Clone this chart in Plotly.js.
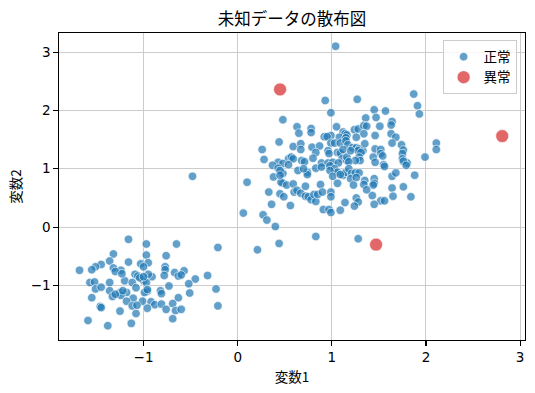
<!DOCTYPE html>
<html>
<head>
<meta charset="utf-8">
<script src="https://cdn.plot.ly/plotly-3.0.1.min.js"></script>
<style>html,body{margin:0;padding:0;background:#fff;}#chart{width:535px;height:393px;}</style>
</head>
<body>
<div id="chart"></div>
<script>
// Normal points (正常)
const normalX = [
1.04,1.87,1.91,1.93,0.93,1.27,0.99,1.45,1.57,0.48,1.36,1.47,1.64,1.63,0.63,0.65,0.78,0.78,1.05,1.12,
1.14,1.24,1.28,1.34,1.37,1.51,1.34,1.46,1.63,1.68,0.99,0.92,0.95,1.08,1.16,1.15,1.26,0.44,0.26,0.28,
0.59,0.67,0.67,0.79,0.87,0.99,1.03,1.09,1.15,1.17,1.22,1.26,1.29,1.33,1.35,1.46,1.52,1.52,1.54,1.64,
1.74,1.76,1.75,1.75,1.80,1.99,2.11,2.11,0.96,0.97,1.06,1.09,1.12,1.11,1.16,1.16,0.83,0.54,0.57,0.59,
0.68,0.71,0.80,0.43,0.37,0.48,0.54,0.89,0.96,1.01,1.07,1.28,1.31,1.44,1.29,1.30,1.25,1.18,1.46,1.55,
1.56,1.76,1.79,1.20,0.43,0.46,0.48,0.64,0.74,0.74,0.70,0.83,0.89,0.98,1.03,1.06,1.12,1.15,1.18,0.98,
1.01,1.09,0.38,0.48,0.46,0.52,0.59,0.60,0.63,0.67,0.72,0.72,0.75,0.78,0.81,0.83,0.85,0.88,0.90,0.99,
0.99,1.06,0.33,0.45,0.49,0.36,0.56,0.91,0.97,0.99,1.09,0.27,0.31,0.40,0.83,0.44,0.21,1.21,1.25,1.29,
1.20,1.26,1.35,1.34,1.45,1.45,1.44,1.37,1.23,1.64,1.68,1.88,1.64,1.76,1.43,1.65,1.84,1.52,1.56,1.26,
1.28,1.24,1.45,1.14,1.28,-0.48,0.10,0.45,0.45,0.06,
-1.16,-0.97,-0.65,-0.21,-1.32,-0.97,-0.76,-1.36,-1.16,-1.03,-0.95,-1.45,-1.51,-1.55,-1.68,-1.32,-1.24,-0.77,-0.77,-0.57,
-1.09,-1.06,-0.91,-1.00,-1.20,-1.30,-1.23,-0.67,-0.63,-0.32,-0.45,-0.52,-0.78,-1.57,-1.52,-1.36,-1.12,-0.97,-0.73,-1.51,
-1.45,-1.36,-1.25,-1.18,-1.08,-0.96,-0.82,-0.81,-1.33,-1.24,-1.55,-1.11,-1.01,-0.92,-1.18,-0.63,-0.51,-0.23,-0.69,-0.88,
-1.12,-1.46,-1.45,-0.96,-0.81,-0.76,-0.66,-0.60,-0.21,-1.25,-1.08,-0.69,-1.59,-1.38,-1.13,-1.30,-1.22,-1.07,-0.99,-0.96,
-1.04,-0.95,-1.00,-1.00,-0.60
];
const normalY = [
3.10,2.28,2.08,1.94,2.17,2.19,1.96,2.01,1.99,1.84,1.87,1.88,1.81,1.75,1.72,1.61,1.69,1.62,1.72,1.63,
1.60,1.67,1.68,1.74,1.73,1.73,1.60,1.57,1.60,1.54,1.57,1.55,1.55,1.54,1.58,1.53,1.54,1.46,1.33,1.16,
1.38,1.43,1.33,1.37,1.39,1.44,1.44,1.44,1.48,1.41,1.36,1.36,1.34,1.31,1.43,1.34,1.33,1.26,1.22,1.44,
1.41,1.32,1.26,1.17,1.10,1.20,1.44,1.33,1.31,1.26,1.28,1.27,1.33,1.17,1.14,1.20,1.28,1.17,1.20,1.17,
1.14,1.12,1.18,1.11,1.06,1.09,1.07,1.10,1.10,1.11,1.10,1.31,1.28,1.20,1.20,1.14,1.14,1.12,1.11,1.07,
1.04,1.13,1.06,1.31,1.01,0.94,0.92,0.97,0.94,0.90,1.00,1.01,1.03,1.05,1.00,0.94,0.89,0.94,1.00,0.97,
0.87,0.90,0.86,0.75,0.77,0.72,0.74,0.60,0.63,0.58,0.70,0.53,0.52,0.47,0.56,0.44,0.56,0.73,0.60,0.60,
0.52,0.75,0.60,0.57,0.52,0.39,0.37,0.30,0.30,0.25,0.29,0.21,0.12,0.01,-0.16,-0.28,-0.39,0.92,0.93,0.93,
0.83,0.85,0.80,0.73,0.83,0.75,0.72,0.64,0.72,0.87,0.93,0.89,0.67,0.69,0.54,0.53,0.52,0.45,0.45,0.50,
0.43,0.36,0.39,0.42,-0.20,0.87,0.77,0.97,0.89,0.24,
-0.21,-0.29,-0.29,-0.35,-0.46,-0.48,-0.49,-0.58,-0.60,-0.63,-0.61,-0.64,-0.68,-0.73,-0.74,-0.70,-0.74,-0.68,-0.73,-0.75,
-0.81,-0.84,-0.85,-0.92,-0.92,-0.76,-0.80,-0.78,-0.84,-0.83,-0.89,-0.97,-0.83,-0.95,-0.94,-0.95,-0.95,-0.95,-1.01,-1.06,
-1.03,-1.09,-1.12,-1.12,-1.04,-1.10,-1.09,-1.14,-1.19,-1.17,-1.21,-1.22,-1.27,-1.28,-1.27,-1.21,-1.13,-1.06,-1.31,-1.33,
-1.35,-1.36,-1.38,-1.39,-1.32,-1.41,-1.43,-1.41,-1.35,-1.44,-1.48,-1.57,-1.60,-1.69,-1.65,-1.15,-1.09,-1.34,-1.12,-1.07,
-0.87,-0.81,-0.85,-0.68,-0.82
];
// Anomalies (異常)
const anomalyX = [0.45, 2.81, 1.47];
const anomalyY = [2.36, 1.56, -0.30];

const seriesNames = ['正常', '異常'];
const tickValues = [-1, 0, 1, 2, 3];
const tickLabels = ['−1', '0', '1', '2', '3'];
const chartTitle = '未知データの散布図';
const xTitle = '変数1';
const yTitle = '変数2';

const JP = '"Noto Sans CJK JP", "DejaVu Sans", sans-serif';
const NUM = '"DejaVu Sans", sans-serif';

const traces = [
  {
    type: 'scatter', mode: 'markers', name: seriesNames[0],
    x: normalX, y: normalY,
    marker: {size: 8.5, color: 'rgba(31,119,180,0.7)', line: {color: 'rgba(255,255,255,0.9)', width: 0.7}}
  },
  {
    type: 'scatter', mode: 'markers', name: seriesNames[1],
    x: anomalyX, y: anomalyY,
    marker: {size: 13, color: 'rgba(214,39,40,0.7)', line: {color: 'rgba(255,255,255,0.9)', width: 0.7}}
  }
];

const axisCommon = {
  showgrid: true, gridcolor: '#cccccc', gridwidth: 1,
  showline: true, linecolor: '#000', linewidth: 1.1, mirror: true,
  ticks: 'outside', ticklen: 4.5, tickwidth: 1.1, tickcolor: '#000',
  zeroline: false, tickmode: 'array', tickvals: tickValues, ticktext: tickLabels,
  tickfont: {family: NUM, size: 13.5, color: '#000'},
  automargin: false
};

const layout = {
  width: 535, height: 393,
  margin: {l: 59, r: 9.7, t: 32.7, b: 53},
  paper_bgcolor: '#fff', plot_bgcolor: '#fff',
  showlegend: true,
  title: {text: chartTitle, x: 0.5, xref: 'paper', xanchor: 'center', y: 0.952, yref: 'container', yanchor: 'middle',
          font: {family: JP, size: 16.5, color: '#000'}},
  xaxis: Object.assign({}, axisCommon, {range: [-1.898, 3.052],
          title: {text: xTitle, font: {family: JP, size: 13.5, color: '#000'}, standoff: 8}}),
  yaxis: Object.assign({}, axisCommon, {range: [-1.935, 3.327],
          title: {text: yTitle, font: {family: JP, size: 13.5, color: '#000'}, standoff: 6}}),
  legend: {x: 0.982, xanchor: 'right', y: 0.976, yanchor: 'top',
           bgcolor: 'rgba(255,255,255,0.8)', bordercolor: '#cccccc', borderwidth: 1,
           font: {family: JP, size: 13.5, color: '#000'}, itemsizing: 'trace'}
};

Plotly.newPlot('chart', traces, layout, {staticPlot: true, displayModeBar: false});
</script>
</body>
</html>
